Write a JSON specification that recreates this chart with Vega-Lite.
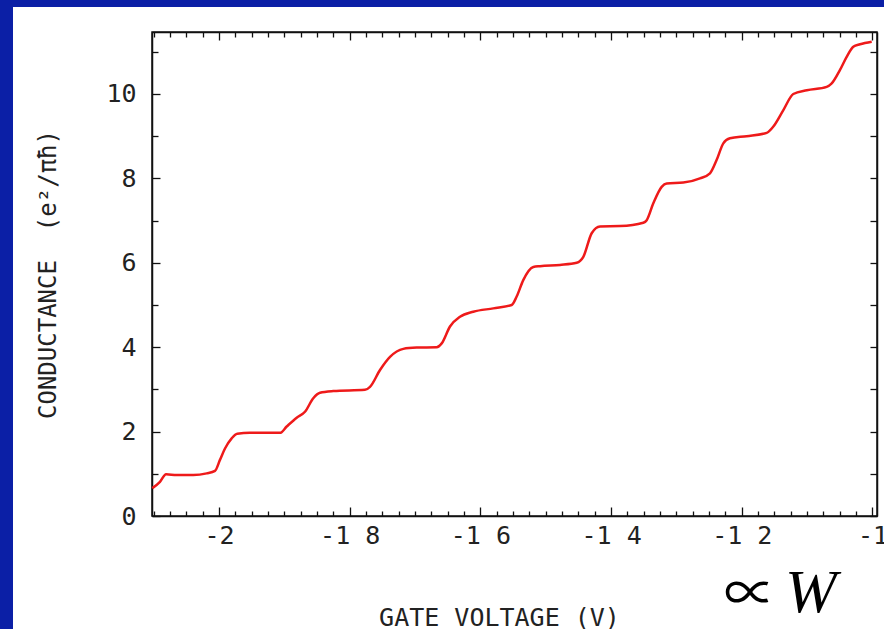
{
  "$schema": "https://vega.github.io/schema/vega-lite/v6.json",
  "autosize": "none",
  "width": 725,
  "height": 484,
  "padding": {"left": 152, "top": 32, "right": 7, "bottom": 113},
  "background": "white",
  "config": {
    "view": {"stroke": "#111", "strokeWidth": 1.5},
    "axis": {
      "zindex": 1,
      "domainColor": "#111",
      "domainWidth": 1.5,
      "tickColor": "#111",
      "tickWidth": 1.3,
      "grid": false,
      "labelFont": "DejaVu Sans Mono",
      "labelFontSize": 25,
      "labelColor": "#222",
      "titleFont": "DejaVu Sans Mono",
      "titleFontSize": 24,
      "titleFontWeight": "normal",
      "titleColor": "#222"
    }
  },
  "data": {
    "values": [
      {"v": -2.102, "g": 0.66},
      {"v": -2.0903, "g": 0.81},
      {"v": -2.081, "g": 0.99},
      {"v": -2.0647, "g": 0.97},
      {"v": -2.0393, "g": 0.97},
      {"v": -2.0188, "g": 1.01},
      {"v": -2.0061, "g": 1.07},
      {"v": -1.9985, "g": 1.33},
      {"v": -1.9908, "g": 1.60},
      {"v": -1.9806, "g": 1.84},
      {"v": -1.972, "g": 1.95},
      {"v": -1.9526, "g": 1.97},
      {"v": -1.9067, "g": 1.97},
      {"v": -1.8964, "g": 2.12},
      {"v": -1.8811, "g": 2.33},
      {"v": -1.8684, "g": 2.47},
      {"v": -1.8557, "g": 2.79},
      {"v": -1.8454, "g": 2.92},
      {"v": -1.8251, "g": 2.96},
      {"v": -1.7766, "g": 2.99},
      {"v": -1.7689, "g": 3.06},
      {"v": -1.7536, "g": 3.46},
      {"v": -1.7383, "g": 3.77},
      {"v": -1.718, "g": 3.96},
      {"v": -1.6975, "g": 3.99},
      {"v": -1.6669, "g": 4.00},
      {"v": -1.6592, "g": 4.09},
      {"v": -1.6465, "g": 4.49},
      {"v": -1.6312, "g": 4.72},
      {"v": -1.6109, "g": 4.84},
      {"v": -1.5803, "g": 4.92},
      {"v": -1.5521, "g": 5.00},
      {"v": -1.5445, "g": 5.20},
      {"v": -1.5344, "g": 5.59},
      {"v": -1.519, "g": 5.90},
      {"v": -1.5088, "g": 5.92},
      {"v": -1.4782, "g": 5.95},
      {"v": -1.4526, "g": 6.00},
      {"v": -1.4425, "g": 6.14},
      {"v": -1.4297, "g": 6.70},
      {"v": -1.417, "g": 6.86},
      {"v": -1.3864, "g": 6.87},
      {"v": -1.3507, "g": 6.95},
      {"v": -1.3455, "g": 7.01},
      {"v": -1.3354, "g": 7.41},
      {"v": -1.3226, "g": 7.80},
      {"v": -1.3149, "g": 7.88},
      {"v": -1.2895, "g": 7.90},
      {"v": -1.264, "g": 8.00},
      {"v": -1.2487, "g": 8.12},
      {"v": -1.2384, "g": 8.44},
      {"v": -1.2283, "g": 8.83},
      {"v": -1.2181, "g": 8.95},
      {"v": -1.1925, "g": 9.00},
      {"v": -1.1619, "g": 9.08},
      {"v": -1.1517, "g": 9.23},
      {"v": -1.1364, "g": 9.62},
      {"v": -1.1212, "g": 10.00},
      {"v": -1.1005, "g": 10.09},
      {"v": -1.0701, "g": 10.17},
      {"v": -1.0624, "g": 10.25},
      {"v": -1.0497, "g": 10.57},
      {"v": -1.0395, "g": 10.88},
      {"v": -1.0294, "g": 11.12},
      {"v": -1.0191, "g": 11.18},
      {"v": -1.0012, "g": 11.24}
    ]
  },
  "resolve": {"axis": {"x": "independent", "y": "independent"}},
  "layer": [
    {
      "data": {"values": [{"x": -2.6, "x2": -2.3152, "y": 14, "y2": -4}, {"x": -2.6, "x2": -0.8, "y": 14, "y2": 12.061}]},
      "mark": {"type": "rect", "fill": "#0b1fa6", "clip": false},
      "encoding": {
        "x": {"field": "x", "type": "quantitative", "scale": {"domain": [-2.1025, -0.9931]}, "axis": null},
        "x2": {"field": "x2"},
        "y": {"field": "y", "type": "quantitative", "scale": {"domain": [0, 11.469]}, "axis": null},
        "y2": {"field": "y2"}
      }
    },
    {
      "mark": {"type": "line", "color": "#ee1a1a", "strokeWidth": 2.5, "interpolate": "monotone"},
      "encoding": {
        "x": {
          "field": "v", "type": "quantitative",
          "scale": {"domain": [-2.1025, -0.9931], "nice": false, "zero": false},
          "axis": {
            "orient": "bottom",
            "values": [-2.1, -2.075, -2.05, -2.025, -2, -1.975, -1.95, -1.925, -1.9, -1.875, -1.85, -1.825, -1.8, -1.775, -1.75, -1.725, -1.7, -1.675, -1.65, -1.625, -1.6, -1.575, -1.55, -1.525, -1.5, -1.475, -1.45, -1.425, -1.4, -1.375, -1.35, -1.325, -1.3, -1.275, -1.25, -1.225, -1.2, -1.175, -1.15, -1.125, -1.1, -1.075, -1.05, -1.025, -1],
            "tickSize": {"condition": {"test": "abs(datum.value*5-round(datum.value*5))<0.001", "value": -9}, "value": -5},
            "labelExpr": "abs(datum.value*5-round(datum.value*5))<0.001 ? (abs(datum.value+2)<0.001 ? '-2' : abs(datum.value+1)<0.001 ? '-1' : '-1\u00a0' + format(round((-datum.value-1)*10),'d')) : ''",
            "labelPadding": 36,
            "labelFlush": false,
            "labelOverlap": false,
            "labelBaseline": "alphabetic",
            "title": "GATE VOLTAGE (V)",
            "titleFontSize": 25,
            "titleX": 347,
            "titleY": 109,
            "titleAlign": "center",
            "titleBaseline": "alphabetic"
          }
        },
        "y": {
          "field": "g", "type": "quantitative",
          "scale": {"domain": [0, 11.469], "nice": false},
          "axis": {
            "orient": "left",
            "values": [0, 1, 2, 3, 4, 5, 6, 7, 8, 9, 10, 11],
            "tickSize": {"condition": {"test": "datum.value % 2 == 0", "value": -8}, "value": -6},
            "labelExpr": "datum.value % 2 == 0 ? datum.label : ''",
            "labelPadding": 24,
            "labelBaseline": "middle",
            "title": "CONDUCTANCE\u00a0\u00a0(e²/πħ)",
            "titleX": -97,
            "titleY": 242,
            "titleAngle": -90,
            "titleAlign": "center",
            "titleBaseline": "alphabetic"
          }
        }
      }
    },
    {
      "mark": {"type": "line", "strokeOpacity": 0},
      "encoding": {
        "x": {
          "field": "v", "type": "quantitative",
          "scale": {"domain": [-2.1025, -0.9931], "nice": false, "zero": false},
          "axis": {
            "orient": "top",
            "values": [-2.1, -2.075, -2.05, -2.025, -2, -1.975, -1.95, -1.925, -1.9, -1.875, -1.85, -1.825, -1.8, -1.775, -1.75, -1.725, -1.7, -1.675, -1.65, -1.625, -1.6, -1.575, -1.55, -1.525, -1.5, -1.475, -1.45, -1.425, -1.4, -1.375, -1.35, -1.325, -1.3, -1.275, -1.25, -1.225, -1.2, -1.175, -1.15, -1.125, -1.1, -1.075, -1.05, -1.025, -1],
            "tickSize": {"condition": {"test": "abs(datum.value*5-round(datum.value*5))<0.001", "value": -8}, "value": -5},
            "labels": false,
            "title": null
          }
        },
        "y": {
          "field": "g", "type": "quantitative",
          "scale": {"domain": [0, 11.469], "nice": false},
          "axis": {
            "orient": "right",
            "values": [0, 1, 2, 3, 4, 5, 6, 7, 8, 9, 10, 11],
            "tickSize": -7,
            "labels": false,
            "title": null
          }
        }
      }
    },
    {
      "data": {"values": [{"t": "∝"}]},
      "mark": {"type": "text", "font": "Noto Sans CJK JP", "fontSize": 52, "color": "#000", "align": "center", "baseline": "alphabetic", "clip": false},
      "encoding": {
        "x": {"datum": -1.1875, "type": "quantitative", "axis": null},
        "y": {"datum": -2.275, "type": "quantitative", "axis": null},
        "text": {"field": "t"}
      }
    },
    {
      "data": {"values": [{"t": "W"}]},
      "mark": {"type": "text", "font": "Liberation Serif", "fontStyle": "italic", "fontSize": 62, "color": "#000", "align": "center", "baseline": "alphabetic", "clip": false},
      "encoding": {
        "x": {"datum": -1.0945, "type": "quantitative", "axis": null},
        "y": {"datum": -2.275, "type": "quantitative", "axis": null},
        "text": {"field": "t"}
      }
    }
  ]
}
